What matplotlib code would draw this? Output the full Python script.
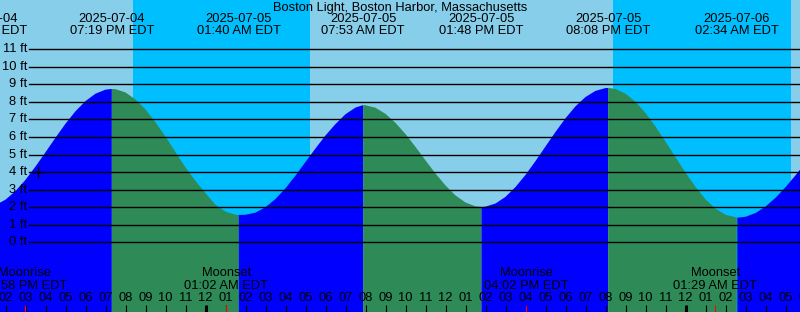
import matplotlib
matplotlib.use("Agg")
import matplotlib.pyplot as plt
import matplotlib.transforms as mtransforms
import numpy as np

plt.rcParams["font.family"] = ["Liberation Sans", "DejaVu Sans"]

TITLE = "Boston Light, Boston Harbor, Massachusetts"

# water level read every half hour, hours counted from 2025-07-04 00:00 EDT
hours = [13 + 0.5 * i for i in range(83)]
level_ft = [2.00, 2.12, 2.43, 2.92, 3.56, 4.32, 5.13, 5.96, 6.76, 7.47,   # 13:00 - 17:30
            8.05, 8.47, 8.70, 8.73, 8.54, 8.14, 7.57, 6.84, 6.02, 5.14,   # 18:00 - 22:30
            4.26, 3.50, 2.80, 2.14, 1.75, 1.57, 1.57, 1.69, 2.00, 2.47,   # 23:00 - 27:30
            3.08, 3.80, 4.58, 5.35, 6.09, 6.74, 7.30, 7.68, 7.81, 7.67,   # 28:00 - 32:30
            7.32, 6.81, 6.17, 5.44, 4.67, 3.92, 3.24, 2.67, 2.27, 2.05,   # 33:00 - 37:30
            2.03, 2.21, 2.59, 3.15, 3.84, 4.63, 5.46, 6.29, 7.07, 7.75,   # 38:00 - 42:30
            8.28, 8.63, 8.79, 8.74, 8.47, 8.01, 7.37, 6.60, 5.74, 4.85,   # 43:00 - 47:30
            3.97, 3.16, 2.45, 1.92, 1.57, 1.43, 1.49, 1.71, 2.09, 2.59,   # 48:00 - 52:30
            3.20, 3.88, 4.60]                                             # 53:00 - 54:00

# high / low tides
extreme_hours = [12.97, 19.317, 25.667, 31.883, 37.8, 44.133, 50.567]
extreme_ft = [2.00, 8.74, 1.56, 7.82, 2.01, 8.80, 1.43]
extreme_dates = ["2025-07-04", "2025-07-04", "2025-07-05", "2025-07-05",
                 "2025-07-05", "2025-07-05", "2025-07-06"]
extreme_times = ["12:58 PM EDT", "07:19 PM EDT", "01:40 AM EDT", "07:53 AM EDT",
                 "01:48 PM EDT", "08:08 PM EDT", "02:34 AM EDT"]

# night (sunset -> sunrise)
sunset_hours = [20.39, 44.39]
sunrise_hours = [29.2, 53.25]

# moon events
moon_hours = [14.967, 25.033, 40.033, 49.483]
moon_names = ["Moonrise", "Moonset", "Moonrise", "Moonset"]
moon_times = ["02:58 PM EDT", "01:02 AM EDT", "04:02 PM EDT", "01:29 AM EDT"]

now_hour = 15.6
now_ft = 4

grid_ft = list(range(0, 12))

DAY = "#87ceeb"
NIGHT = "#00bfff"
RISING = "#0000ff"
FALLING = "#2e8b57"
TXT = "black"
FS = 9.3

W, H = 800, 312
fig = plt.figure(figsize=(W / 100, H / 100), dpi=100)
ax = fig.add_axes([0, 0, 1, 1])
ax.set_axis_off()

# 20 px per hour, hour 14 at x=5.5 px ; 0 ft at y=242.3 px, 17.545 px per ft
x0 = 14 - 5.5 / 20
ax.set_xlim(x0, x0 + W / 20)
ft_px = 17.545
ax.set_ylim(-(H - 242.3) / ft_px, 242.3 / ft_px)

ax.axvspan(x0 - 5, x0 + W / 20 + 5, color=DAY, lw=0, zorder=0)
for s, r in zip(sunset_hours, sunrise_hours):
  ax.axvspan(s, r, color=NIGHT, lw=0, zorder=0.5)

# water, coloured by rising / falling
t_all = np.array(hours + extreme_hours, dtype=float)
y_all = np.array(level_ft + extreme_ft, dtype=float)
order = np.argsort(t_all)
t_all, y_all = t_all[order], y_all[order]

bounds = extreme_hours + [hours[-1]]
for i in range(len(bounds) - 1):
  a, b = bounds[i], bounds[i + 1]
  m = (t_all >= a - 1e-6) & (t_all <= b + 1e-6)
  ts, ys = t_all[m], y_all[m]
  color = RISING if ys[-1] > ys[0] else FALLING
  ax.fill_between(ts, -10, ys, color=color, lw=0, zorder=1)

# ft grid
for g in grid_ft:
  ax.axhline(g, xmin=29 / W, xmax=1, color="black", lw=1.0, zorder=2)
  ax.text(27 / W, g, f"{g} ft", transform=ax.get_yaxis_transform(),
          ha="right", va="center", fontsize=FS, color=TXT, zorder=3)

ax.plot(now_hour, now_ft, marker="+", ms=9, mew=1, color="black", zorder=3)

bt = mtransforms.blended_transform_factory(ax.transData, ax.transAxes)


def fy(px):
  return 1 - px / H


fig.text(0.5, fy(7.5), TITLE, ha="center", va="center", fontsize=FS, color=TXT)
for h, d, t in zip(extreme_hours, extreme_dates, extreme_times):
  ax.text(h, fy(19.3), d, transform=bt, ha="center", va="center",
          fontsize=FS, color=TXT, zorder=3)
  ax.text(h, fy(31.5), t, transform=bt, ha="center", va="center",
          fontsize=FS, color=TXT, zorder=3)

# hour ticks and labels
for h in range(13, 55):
  lab = f"{(h - 1) % 12 + 1:02d}"
  ax.text(h, fy(297.7), lab, transform=bt, ha="center", va="center",
          fontsize=FS, color=TXT, zorder=3)
  lw = 2.2 if h % 24 == 0 else 0.8
  ax.vlines(h, 0, fy(305), transform=bt, color="black", lw=lw, zorder=3)

for h, n, t in zip(moon_hours, moon_names, moon_times):
  ax.vlines(h, 0, fy(305), transform=bt, color="red", lw=0.8, zorder=4)
  ax.text(h, fy(273.3), n, transform=bt, ha="center", va="center",
          fontsize=FS, color=TXT, zorder=3)
  ax.text(h, fy(285.7), t, transform=bt, ha="center", va="center",
          fontsize=FS, color=TXT, zorder=3)

fig.savefig("out.png", dpi=100)
